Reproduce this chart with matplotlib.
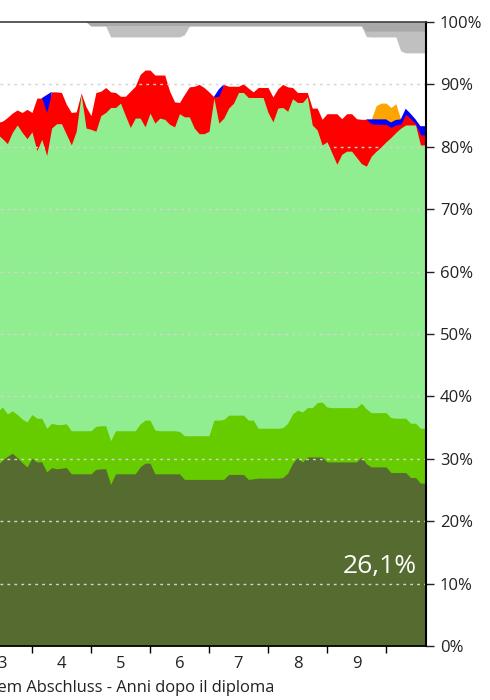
import numpy as np
import matplotlib.pyplot as plt
from matplotlib.ticker import FixedLocator, NullFormatter, FixedFormatter

plt.rcParams['font.family'] = ['Open Sans', 'DejaVu Sans']

# months after graduation (only the visible part of the chart)
months = np.arange(29, 117)

# cumulative upper edges (%) of the stacked layers
olive_top = [
    29.0, 29.8, 30.4, 30.9, 30.2, 29.4, 28.7, 30.1, 29.5, 29.5, 27.9, 28.6,
    28.4, 28.5, 28.6, 27.6, 27.6, 27.6, 27.6, 27.6, 28.3, 28.4, 28.4, 25.9,
    27.6, 27.6, 27.6, 27.6, 27.6, 28.7, 29.3, 29.3, 27.6, 27.6, 27.6, 27.6,
    27.6, 27.6, 26.7, 26.7, 26.7, 26.7, 26.7, 26.7, 26.7, 26.7, 26.7, 27.5,
    27.5, 27.5, 27.5, 26.7, 26.8, 26.9, 26.9, 26.9, 26.9, 26.9, 27.0, 27.7,
    29.3, 30.2, 29.5, 30.3, 30.3, 30.3, 30.3, 29.5, 29.5, 29.5, 29.5, 29.5,
    29.5, 29.5, 30.3, 29.2, 28.7, 28.7, 28.7, 28.7, 27.8, 27.8, 27.8, 27.8,
    27.0, 27.0, 26.1, 26.1,
]
green_top = [
    37.6, 38.3, 37.2, 37.7, 37.1, 36.4, 35.9, 37.1, 36.5, 36.5, 34.9, 35.7,
    35.5, 35.5, 35.6, 34.5, 34.5, 34.5, 34.5, 34.5, 35.2, 35.3, 35.3, 32.9,
    34.5, 34.5, 34.5, 34.5, 34.5, 35.6, 36.2, 36.2, 34.6, 34.5, 34.5, 34.5,
    34.5, 34.4, 33.7, 33.7, 33.7, 33.7, 33.7, 33.7, 36.2, 36.2, 36.3, 37.0,
    37.0, 37.0, 37.0, 36.2, 36.2, 34.9, 34.9, 34.9, 34.9, 34.9, 35.0, 35.7,
    37.2, 37.8, 37.5, 38.2, 38.2, 39.0, 39.1, 38.3, 38.2, 38.2, 38.2, 38.2,
    38.2, 38.2, 38.9, 38.0, 37.4, 37.4, 37.4, 37.4, 36.6, 36.5, 36.5, 36.5,
    35.7, 35.7, 34.9, 34.9,
]
light_top = [
    82.0, 81.3, 80.5, 82.3, 83.5, 82.3, 81.3, 82.4, 79.4, 81.2, 78.6, 83.0,
    83.7, 83.7, 82.0, 80.3, 82.5, 88.4, 83.0, 82.8, 82.5, 85.0, 85.5, 86.3,
    86.3, 87.0, 85.0, 83.1, 84.6, 84.6, 83.2, 85.4, 83.8, 84.6, 84.4, 83.6,
    83.2, 85.3, 84.8, 84.8, 83.0, 82.1, 82.1, 82.5, 87.8, 83.8, 84.6, 86.2,
    87.0, 88.7, 88.7, 87.9, 87.9, 87.9, 87.9, 85.5, 84.0, 86.2, 86.3, 85.7,
    87.7, 87.1, 87.1, 88.0, 83.5, 82.7, 80.3, 80.8, 79.0, 77.2, 78.8, 79.3,
    79.3, 78.3, 77.3, 76.9, 78.5, 79.3, 80.0, 80.8, 81.5, 82.3, 83.0, 83.5,
    83.5, 83.5, 80.3, 80.3,
]
red_top = [
    83.9, 84.1, 84.7, 85.4, 85.9, 85.5, 86.0, 85.5, 87.8, 87.8, 85.5, 88.8,
    88.8, 88.7, 86.8, 85.5, 85.6, 88.6, 86.4, 85.0, 88.7, 88.9, 89.5, 88.8,
    88.7, 88.1, 88.1, 88.9, 89.7, 91.6, 92.3, 92.3, 91.5, 91.5, 91.5, 88.9,
    87.2, 87.1, 88.4, 89.6, 89.7, 90.0, 89.5, 88.8, 88.0, 88.1, 90.0, 89.7,
    89.7, 89.7, 90.1, 89.4, 88.8, 89.5, 89.5, 89.5, 88.0, 89.3, 90.0, 89.6,
    89.5, 88.7, 88.7, 88.7, 86.2, 86.2, 84.4, 85.3, 85.3, 85.3, 84.5, 85.3,
    85.3, 84.5, 84.4, 84.4, 83.7, 83.6, 83.6, 83.6, 83.1, 83.5, 83.6, 85.2,
    84.5, 83.7, 81.9, 81.9,
]

# thin layers (share in %)
blue = np.zeros(len(months))
blue[months == 39] = 2.8
blue[months == 74] = 1.1
blue[(months >= 105) & (months <= 116)] = [0.7, 0.8, 0.8, 0.8, 0.8, 0.8,
                                           0.8, 0.9, 0.8, 0.7, 1.4, 1.4]
orange = np.zeros(len(months))
orange[(months >= 106) & (months <= 110)] = [2.2, 2.6, 2.6, 2.4, 2.6]

silver = np.zeros(len(months))
silver[(months >= 52) & (months <= 67)] = [1.75] * 15 + [1.4]
silver[months >= 104] = [0.8, 0.85, 0.85, 0.85, 0.85, 0.85, 0.85,
                         3.1, 3.4, 3.4, 3.4, 3.4, 3.4]
darkgray = np.zeros(len(months))
darkgray[(months >= 48) & (months <= 103)] = 0.65
darkgray[months >= 104] = 1.55

year_ticks = [36, 48, 60, 72, 84, 96, 108]
year_centers = [30, 42, 54, 66, 78, 90, 102]
year_labels = ['3', '4', '5', '6', '7', '8', '9']


def near(share):
    # fill a thin layer only around the months where it exists
    return np.convolve(share > 0, np.ones(3), mode='same') > 0


fig = plt.figure(figsize=(4.9, 7), dpi=100)
ax = fig.add_axes([0, 0.0771, 426 / 490, 0.8915])

blue_top = np.array(red_top) + blue
orange_top = blue_top + orange
silver_top = 100 - darkgray

# paint from the highest edge down so no seams show between layers
ax.fill_between(months, 0, 100, where=near(darkgray), color='#a9a9a9',
                lw=0, interpolate=True)
ax.fill_between(months, 0, silver_top, where=near(silver), color='#c0c0c0',
                lw=0)
ax.fill_between(months, 0, silver_top - silver, color='white', lw=0)
ax.fill_between(months, 0, orange_top, where=near(orange), color='#ffa500',
                lw=0)
ax.fill_between(months, 0, blue_top, where=near(blue), color='#0000ff', lw=0)
ax.fill_between(months, 0, red_top, color='#ff0000', lw=0)
ax.fill_between(months, 0, light_top, color='#90ee90', lw=0)
ax.fill_between(months, 0, green_top, color='#66cc00', lw=0)
ax.fill_between(months, 0, olive_top, color='#566b30', lw=0)

for level in range(10, 100, 10):
    ax.axhline(level, linestyle=(0, (2, 3)), color='#d4d4d4', lw=1, zorder=3)

ax.text(114.3, 11.75, f'{olive_top[-1]:.1f}%'.replace('.', ','),
        color='white', fontsize=19, ha='right', va='baseline', zorder=4)

ax.set_xlim(29.5, 116.13)
ax.set_ylim(0, 100)

ax.yaxis.tick_right()
ax.set_yticks(range(0, 101, 10))
ax.set_yticklabels([f'{v}%' for v in range(0, 101, 10)])
ax.tick_params(axis='y', length=6, width=1, pad=4, labelsize=12,
               colors='#222222')

ax.xaxis.set_major_locator(FixedLocator(year_ticks))
ax.xaxis.set_major_formatter(NullFormatter())
ax.xaxis.set_minor_locator(FixedLocator(year_centers))
ax.xaxis.set_minor_formatter(FixedFormatter(year_labels))
ax.tick_params(axis='x', which='major', length=5, width=1, direction='out')
ax.tick_params(axis='x', which='minor', length=0, pad=7, labelsize=12,
               labelcolor='#222222')

ax.spines['left'].set_visible(False)
ax.spines['top'].set_color('#404040')
ax.spines['top'].set_linewidth(1.2)
ax.spines['right'].set_linewidth(1.5)
ax.spines['bottom'].set_linewidth(1.2)
for side in ('top', 'right', 'bottom'):
    ax.spines[side].set_zorder(5)

fig.text(275 / 490, 1 - 688 / 700,
         'Jahre nach dem Abschluss - Anni dopo il diploma',
         ha='right', va='center', fontsize=11.9, color='#222222')

fig.savefig('out.png', dpi=100)
